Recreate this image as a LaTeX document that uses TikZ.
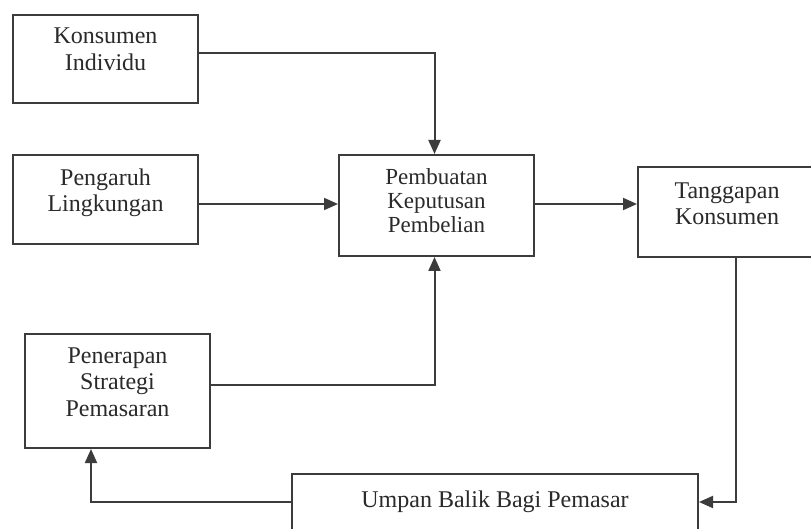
\documentclass[tikz,border=0pt]{standalone}
\usepackage{fontspec}
\setmainfont{Liberation Serif}
\usetikzlibrary{arrows.meta}
\definecolor{ln}{HTML}{3C3C3C}
\definecolor{tx}{HTML}{2A2A2A}
\begin{document}
\begin{tikzpicture}[x=1pt,y=-1pt,
  box/.style={draw=ln,line width=2pt,inner sep=0pt,anchor=north west},
  txt/.style={text=tx,font=\fontsize{24}{26.5}\selectfont,align=center,inner sep=0pt,anchor=north},
  conn/.style={draw=ln,line width=2pt,-{Triangle[length=14pt,width=12pt]}}]
\useasboundingbox[fill=white] (0,0) rectangle (811,529);

% boxes
\node[box,minimum width=185pt,minimum height=88pt] (K) at (12,14) {};
\node[box,minimum width=185pt,minimum height=89pt] (P) at (12,154) {};
\node[box,minimum width=195pt,minimum height=101pt] (B) at (338,154) {};
\node[box,minimum width=178pt,minimum height=90pt] (T) at (637,166) {};
\node[box,minimum width=185pt,minimum height=114pt] (S) at (24,333) {};
\node[box,minimum width=406pt,minimum height=60pt] (U) at (291,473) {};

% texts
\node[txt] (Kt) at ([yshift=-11pt]K.north) {\strut Konsumen\\Individu};
\node[txt] (Pt) at ([yshift=-12.5pt]P.north) {\strut Pengaruh\\Lingkungan};
\node[txt,font=\fontsize{23}{24}\selectfont] (Bt) at ([yshift=-14pt]B.north) {\strut Pembuatan\\Keputusan\\Pembelian};
\node[txt] (Tt) at ([yshift=-13.5pt]T.north) {\strut Tanggapan\\Konsumen};
\node[txt] (St) at ([yshift=-11.5pt]S.north) {\strut Penerapan\\Strategi\\Pemasaran};
\node[txt] (Ut) at ([yshift=-16pt]U.north) {\strut Umpan Balik Bagi Pemasar};

% connector points
\coordinate (k1) at ([yshift=6pt]K.east);
\coordinate (b0) at ([xshift=-2pt]B.north);
\coordinate (b2) at ([xshift=-2pt]B.south);
\coordinate (p1) at ([yshift=-4.5pt]P.east);
\coordinate (b1) at ([yshift=1.5pt]B.east);
\coordinate (s1) at ([yshift=6pt]S.east);
\coordinate (t1) at ([xshift=9pt]T.south);
\coordinate (u1) at ([yshift=2pt]U.east);
\coordinate (u2) at ([yshift=2pt]U.west);
\coordinate (s2) at ([xshift=-26.5pt]S.south);

% connectors
\draw[conn] (k1) -| (b0);
\draw[conn] (p1) -- (p1 -| B.west);
\draw[conn] (s1) -| (b2);
\draw[conn] (b1) -- (b1 -| T.west);
\draw[conn] (t1) |- (u1);
\draw[conn] (u2) -| (s2);
\end{tikzpicture}
\end{document}
